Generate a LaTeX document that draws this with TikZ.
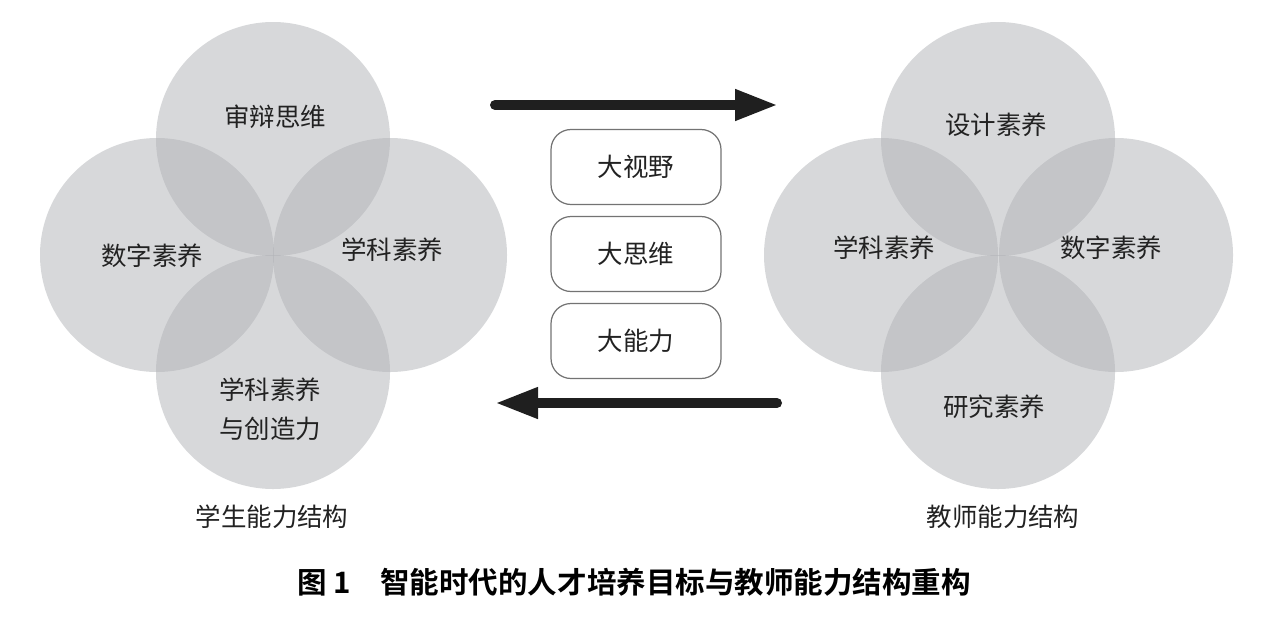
\documentclass[tikz,border=0pt]{standalone}
\usepackage{fontspec}
\setmainfont{Noto Sans CJK SC}
\newfontfamily\capfont{Noto Sans CJK SC Bold}
\usetikzlibrary{arrows.meta}
\definecolor{ringgray}{RGB}{176,178,182}
\definecolor{inkgray}{RGB}{34,34,34}
\tikzset{
  ring/.style={fill=ringgray,fill opacity=0.5},
  word/.style={text=inkgray,font=\fontsize{14.5}{18}\selectfont,align=center,inner sep=0pt},
  bigbox/.style={draw=black!55,line width=0.7pt,rounded corners=0.4cm,minimum width=3.4cm,minimum height=1.5cm,text=inkgray,font=\fontsize{14.5}{18}\selectfont},
  bigarrow/.style={line width=0.2cm,line cap=round,draw=black!88,-{Triangle[length=0.86cm,width=0.58cm]}}
}
\begin{document}
\begin{tikzpicture}[x=0.02cm,y=-0.02cm]
\useasboundingbox (0,0) rectangle (1280,629);
% student circles
\fill[ring] (273,139) circle[radius=117];
\fill[ring] (157,255) circle[radius=117];
\fill[ring] (390,255) circle[radius=117];
\fill[ring] (273,372) circle[radius=117];
\node[word] (s1) at (275,117) {审辩思维};
\node[word] (s2) at (152,256) {数字素养};
\node[word] (s3) at (392,250) {学科素养};
\node[word] (s4) at (270,409) {学科素养\\[4pt]与创造力};
\node[word] (s5) at (272,517) {学生能力结构};
% teacher circles
\fill[ring] (998,139) circle[radius=117];
\fill[ring] (881,255) circle[radius=117];
\fill[ring] (1116,255) circle[radius=117];
\fill[ring] (998,372) circle[radius=117];
\node[word] (t1) at (996,125) {设计素养};
\node[word] (t2) at (884,248) {学科素养};
\node[word] (t3) at (1111,248) {数字素养};
\node[word] (t4) at (994,407) {研究素养};
\node[word] (t5) at (1003,517) {教师能力结构};
% middle boxes
\node[bigbox] (b1) at (636,167) {大视野};
\node[bigbox] (b2) at (636,254) {大思维};
\node[bigbox] (b3) at (636,341) {大能力};
% arrows
\coordinate (a1) at (495,105);
\coordinate (a2) at (778,105);
\coordinate (a3) at (777,403);
\coordinate (a4) at (495,403);
\draw[bigarrow] (a1) -- (a2);
\draw[bigarrow] (a3) -- (a4);
% caption
\node[text=black,font=\capfont\fontsize{16.8}{20}\selectfont,inner sep=0pt] (cap) at (634,582) {图 1\hspace{1em}智能时代的人才培养目标与教师能力结构重构};
\end{tikzpicture}
\end{document}
